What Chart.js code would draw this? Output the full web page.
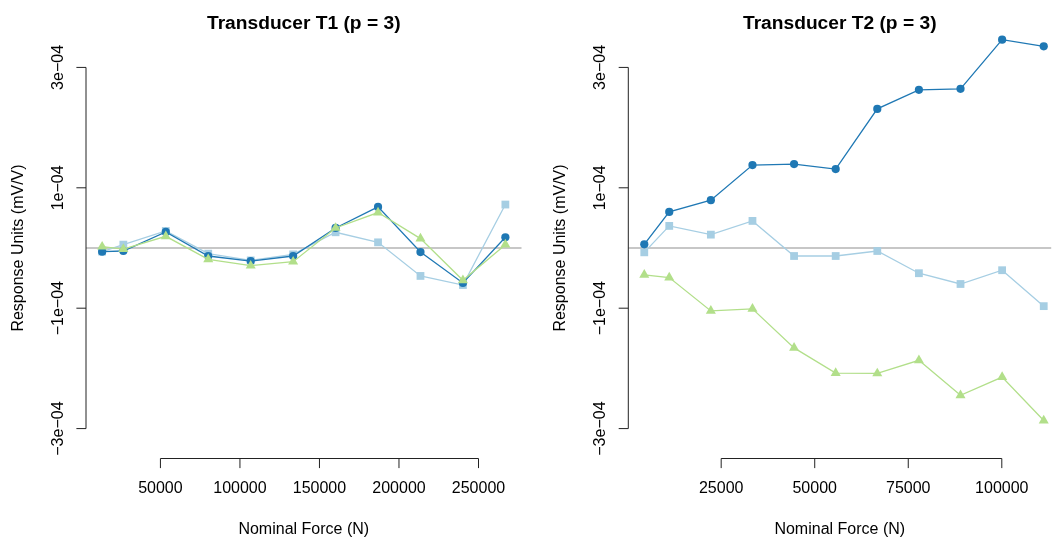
<!DOCTYPE html>
<html>
<head>
<meta charset="utf-8">
<script src="https://cdn.jsdelivr.net/npm/chart.js@4.4.0/dist/chart.umd.min.js"></script>
<style>
  html, body { margin: 0; padding: 0; background: #fff; }
  #wrap { position: relative; width: 1057px; height: 538px; }
  canvas { position: absolute; top: 0; }
</style>
</head>
<body>
<div id="wrap">
  <canvas id="t1" width="528" height="538" style="left:0"></canvas>
  <canvas id="t2" width="529" height="538" style="left:528px"></canvas>
</div>
<script>
// nominal force steps (N)
const forceT1 = [13345, 26689, 53379, 80068, 106757, 133447, 160136, 186826, 213515, 240204, 266893];
const forceT2 = [4448, 11121, 22241, 33362, 44482, 55603, 66723, 77844, 88964, 100085, 111206];

// response units (mV/V), three runs per transducer
const t1Run1 = [-6.1e-6, -5.0e-6, 2.67e-5, -1.33e-5, -2.17e-5, -1.33e-5, 3.33e-5, 6.83e-5, -6.7e-6, -5.81e-5, 1.78e-5];
const t1Run2 = [-6.0e-6, 5.6e-6, 2.83e-5, -9.4e-6, -2.06e-5, -1.06e-5, 2.61e-5, 9.4e-6, -4.64e-5, -6.15e-5, 7.22e-5];
const t1Run3 = [2.2e-6, -1.7e-6, 1.94e-5, -1.89e-5, -2.94e-5, -2.28e-5, 3.33e-5, 5.89e-5, 1.56e-5, -5.36e-5, 5.6e-6];

const t2Run1 = [6.1e-6, 6.0e-5, 7.94e-5, 1.378e-4, 1.394e-4, 1.311e-4, 2.311e-4, 2.628e-4, 2.644e-4, 3.461e-4, 3.35e-4];
const t2Run2 = [-7.2e-6, 3.67e-5, 2.22e-5, 4.5e-5, -1.33e-5, -1.33e-5, -5.0e-6, -4.19e-5, -5.98e-5, -3.69e-5, -9.66e-5];
const t2Run3 = [-4.47e-5, -4.92e-5, -1.045e-4, -1.011e-4, -1.659e-4, -2.078e-4, -2.084e-4, -1.866e-4, -2.447e-4, -2.145e-4, -2.866e-4];

// tick marks
const yTicks = [-3e-4, -1e-4, 1e-4, 3e-4];
const yTickLabels = ['\u22123e\u221204', '\u22121e\u221204', '1e\u221204', '3e\u221204'];
const xTicksT1 = [50000, 100000, 150000, 200000, 250000];
const xTicksT2 = [25000, 50000, 75000, 100000];

const FONT = '"Liberation Sans", Arial, Helvetica, sans-serif';

const rAxes = {
  id: 'rAxes',
  beforeDatasetsDraw(chart) {
    const {ctx, chartArea: a, scales: {y}} = chart;
    const y0 = y.getPixelForValue(0);
    ctx.save();
    ctx.strokeStyle = '#b4b4b4';
    ctx.lineWidth = 1.3;
    ctx.beginPath();
    ctx.moveTo(a.left, y0);
    ctx.lineTo(a.right, y0);
    ctx.stroke();
    ctx.restore();
  },
  afterDraw(chart, args, opts) {
    const {ctx, chartArea: a, scales: {x, y}} = chart;
    const tck = 9.6;
    ctx.save();
    ctx.strokeStyle = '#222';
    ctx.fillStyle = '#000';
    ctx.lineWidth = 1;

    // y axis
    const yTop = y.getPixelForValue(yTicks[yTicks.length - 1]);
    const yBot = y.getPixelForValue(yTicks[0]);
    ctx.beginPath();
    ctx.moveTo(a.left, yTop);
    ctx.lineTo(a.left, yBot);
    yTicks.forEach(v => {
      const p = y.getPixelForValue(v);
      ctx.moveTo(a.left, p);
      ctx.lineTo(a.left - tck, p);
    });
    ctx.stroke();
    ctx.font = '16px ' + FONT;
    ctx.textAlign = 'center';
    ctx.textBaseline = 'alphabetic';
    yTicks.forEach((v, i) => {
      const p = y.getPixelForValue(v);
      ctx.save();
      ctx.translate(a.left - 23, p);
      ctx.rotate(-Math.PI / 2);
      ctx.fillText(yTickLabels[i], 0, 0);
      ctx.restore();
    });

    // x axis
    const xt = opts.xTicks;
    const xl = x.getPixelForValue(xt[0]);
    const xr = x.getPixelForValue(xt[xt.length - 1]);
    ctx.beginPath();
    ctx.moveTo(xl, a.bottom);
    ctx.lineTo(xr, a.bottom);
    xt.forEach(v => {
      const p = x.getPixelForValue(v);
      ctx.moveTo(p, a.bottom);
      ctx.lineTo(p, a.bottom + tck);
    });
    ctx.stroke();
    xt.forEach(v => {
      ctx.fillText(String(v), x.getPixelForValue(v), a.bottom + 34.5);
    });

    // titles
    const cx = (a.left + a.right) / 2;
    const cy = (a.top + a.bottom) / 2;
    ctx.fillText('Nominal Force (N)', cx, 533.5);
    ctx.save();
    ctx.translate(a.left - 63, cy);
    ctx.rotate(-Math.PI / 2);
    ctx.fillText('Response Units (mV/V)', 0, 0);
    ctx.restore();
    ctx.font = 'bold 19.2px ' + FONT;
    ctx.fillText(opts.title, cx, 29);
    ctx.restore();
  }
};

function series(xs, ys, color, style, radius, order) {
  return {
    data: xs.map((f, i) => ({x: f, y: ys[i]})),
    borderColor: color,
    backgroundColor: color,
    borderWidth: 1.3,
    pointStyle: style,
    pointRadius: radius,
    pointBorderWidth: 0,
    pointBackgroundColor: color,
    tension: 0,
    clip: false,
    order: order
  };
}

function makeChart(id, title, xs, run1, run2, run3, xMin, xMax, xTicks, pad) {
  return new Chart(document.getElementById(id), {
    type: 'line',
    data: {
      datasets: [
        series(xs, run1, '#1F78B4', 'circle', 4.1, 1),
        series(xs, run2, '#A6CEE3', 'rect', 5.5, 2),
        series(xs, run3, '#B2DF8A', 'triangle', 5.8, 0)
      ]
    },
    options: {
      responsive: false,
      animation: false,
      layout: {padding: pad},
      plugins: {
        legend: {display: false},
        tooltip: {enabled: false},
        rAxes: {title: title, xTicks: xTicks}
      },
      scales: {
        x: {type: 'linear', display: false, min: xMin, max: xMax},
        y: {type: 'linear', display: false, min: -3.497e-4, max: 3.497e-4}
      }
    },
    plugins: [rAxes]
  });
}

makeChart('t1', 'Transducer T1 (p = 3)', forceT1, t1Run1, t1Run2, t1Run3,
  3203, 277035, xTicksT1, {left: 86, right: 6.5, top: 37.5, bottom: 79.5});
makeChart('t2', 'Transducer T2 (p = 3)', forceT2, t2Run1, t2Run2, t2Run3,
  178, 113200, xTicksT2, {left: 100.3, right: 0, top: 37.5, bottom: 79.5});
</script>
</body>
</html>
